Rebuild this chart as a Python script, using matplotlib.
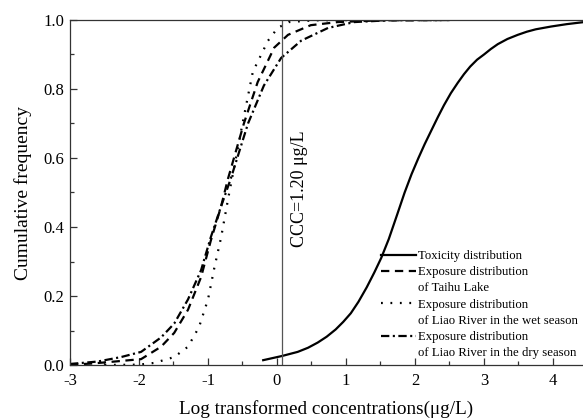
import matplotlib
matplotlib.use("Agg")
import matplotlib.pyplot as plt
from matplotlib.lines import Line2D
from matplotlib.ticker import MultipleLocator, FormatStrFormatter

plt.rcParams['font.family'] = ['Liberation Serif', 'DejaVu Serif']
plt.rcParams['axes.unicode_minus'] = False
plt.rcParams['lines.scale_dashes'] = False

# Toxicity distribution (species sensitivity)
tox_x = [-0.2, 0.07, 0.3, 0.45, 0.59, 0.72, 0.85, 0.96, 1.07, 1.18, 1.3, 1.41, 1.51,
         1.62, 1.74, 1.85, 1.95, 2.05, 2.14, 2.23, 2.33, 2.42, 2.52, 2.62, 2.71, 2.8,
         2.9, 3.0, 3.1, 3.2, 3.34, 3.49, 3.62, 3.75, 3.97, 4.2, 4.45]
tox_y = [0.014, 0.026, 0.038, 0.05, 0.065, 0.082, 0.103, 0.125, 0.15, 0.183, 0.225,
         0.268, 0.31, 0.365, 0.435, 0.50, 0.553, 0.60, 0.64, 0.677, 0.718, 0.753, 0.788,
         0.818, 0.843, 0.865, 0.885, 0.90, 0.916, 0.93, 0.945, 0.957, 0.966, 0.973,
         0.981, 0.988, 0.994]

# Exposure distribution of Taihu Lake
taihu_x = [-3.0, -2.7, -2.41, -1.97, -1.68, -1.49, -1.29, -1.10, -0.96, -0.81, -0.71,
           -0.48, -0.28, -0.04, 0.16, 0.49, 0.88, 1.5, 2.5]
taihu_y = [0.001, 0.004, 0.009, 0.017, 0.053, 0.093, 0.16, 0.255, 0.36, 0.46, 0.54,
           0.70, 0.82, 0.92, 0.957, 0.985, 0.994, 0.999, 1.0]

# Exposure distribution of Liao River, wet season
wet_x = [-2.5, -2.0, -1.78, -1.49, -1.29, -1.13, -1.0, -0.91, -0.81, -0.71,
         -0.48, -0.35, -0.13, 0.01, 0.17, 0.54, 1.2, 2.5]
wet_y = [0.0, 0.001, 0.006, 0.023, 0.053, 0.11, 0.19, 0.28, 0.37, 0.48,
         0.72, 0.85, 0.94, 0.977, 0.994, 0.999, 1.0, 1.0]

# Exposure distribution of Liao River, dry season
dry_x = [-3.0, -2.6, -2.26, -1.97, -1.68, -1.49, -1.29, -1.10, -0.96, -0.81, -0.67,
         -0.42, -0.19, 0.06, 0.35, 0.74, 1.12, 1.6, 2.5]
dry_y = [0.003, 0.01, 0.023, 0.038, 0.08, 0.12, 0.19, 0.275, 0.37, 0.46, 0.54,
         0.70, 0.81, 0.89, 0.94, 0.977, 0.994, 0.999, 1.0]

ccc_x = 0.079  # log10(1.20)
ccc_label = "CCC=1.20 μg/L"

x_ticks = [-3, -2, -1, 0, 1, 2, 3, 4]
y_ticks = [0.0, 0.2, 0.4, 0.6, 0.8, 1.0]

W, H = 583, 419
fig = plt.figure(figsize=(W / 100, H / 100), dpi=100)
ax = fig.add_axes([70 / W, (H - 365) / H, (W - 70) / W, 345 / H])

lw = 1.6
ax.plot(tox_x, tox_y, color='black', lw=lw, ls='-')
ax.plot(taihu_x, taihu_y, color='black', lw=lw, dashes=(6, 4))
ax.plot(wet_x, wet_y, color='black', lw=lw, dashes=(1.3, 5.5))
ax.plot(dry_x, dry_y, color='black', lw=lw, dashes=(6, 2.5, 1.5, 2.5))
ax.axvline(ccc_x, color='#555555', lw=0.9)

ax.text(0.33, 0.51, ccc_label, rotation=90, ha='center', va='center', fontsize=13)

ax.set_xlim(-3, 4.435)
ax.set_ylim(0, 1.0)
ax.set_xticks(x_ticks)
ax.set_yticks(y_ticks)
ax.yaxis.set_major_formatter(FormatStrFormatter('%.1f'))
ax.xaxis.set_minor_locator(MultipleLocator(0.5))
ax.yaxis.set_minor_locator(MultipleLocator(0.1))
ax.tick_params(which='both', direction='in', labelsize=12, color='#333333')
ax.tick_params(which='major', length=5, width=0.9)
ax.tick_params(which='minor', length=3, width=0.9)
ax.tick_params(axis='x', pad=6)
ax.tick_params(axis='y', pad=4)
for s in ['left', 'bottom', 'top']:
    ax.spines[s].set_color('#333333')
    ax.spines[s].set_linewidth(0.9)
ax.spines['right'].set_visible(False)

ax.set_xlabel("Log transformed concentrations(μg/L)", fontsize=13.8, labelpad=7.5)
ax.set_ylabel("Cumulative frequency", fontsize=14, labelpad=8)

blank = Line2D([], [], color='none')
handles = [
    Line2D([], [], color='black', lw=lw, ls='-'),
    Line2D([], [], color='black', lw=lw, dashes=(6, 4)),
    blank,
    Line2D([], [], color='black', lw=lw, dashes=(1.3, 5.5)),
    blank,
    Line2D([], [], color='black', lw=lw, dashes=(6, 2.5, 1.5, 2.5)),
    blank,
]
labels = [
    "Toxicity distribution",
    "Exposure distribution",
    "of Taihu Lake",
    "Exposure distribution",
    "of Liao River in the wet season",
    "Exposure distribution",
    "of Liao River in the dry season",
]
ax.legend(handles, labels, loc='center left', bbox_to_anchor=(0.606, 0.175),
          frameon=False, fontsize=9.2, borderpad=0, borderaxespad=0,
          labelspacing=0.33, handlelength=2.75, handletextpad=0.12)

fig.savefig("out.png", dpi=100)
